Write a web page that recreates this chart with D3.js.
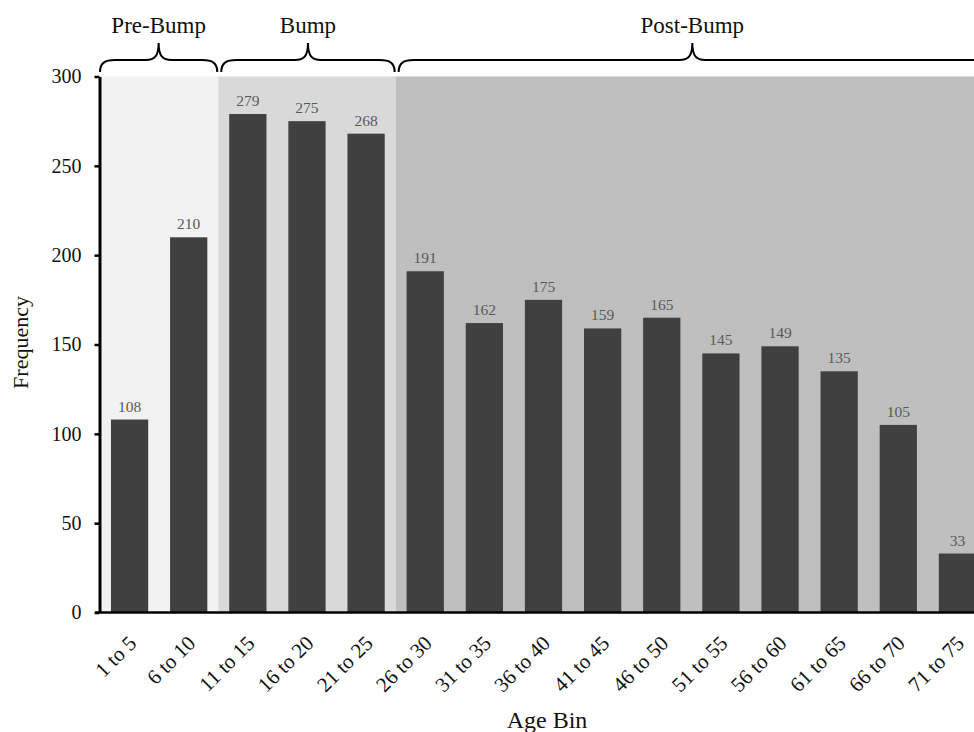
<!DOCTYPE html>
<html>
<head>
<meta charset="utf-8">
<script src="https://cdn.jsdelivr.net/npm/d3@7"></script>
<style>
  html, body { margin: 0; padding: 0; background: #fff; overflow: hidden; }
  svg { display: block; }
  text { font-family: "Liberation Serif", "Times New Roman", serif; }
</style>
</head>
<body>
<svg id="chart" width="974" height="732"></svg>
<script>
const categories = ["1 to 5","6 to 10","11 to 15","16 to 20","21 to 25","26 to 30","31 to 35","36 to 40","41 to 45","46 to 50","51 to 55","56 to 60","61 to 65","66 to 70","71 to 75"];
const frequencies = [108,210,279,275,268,191,162,175,159,165,145,149,135,105,33];
const groupNames = ["Pre-Bump","Bump","Post-Bump"];
const groupFirst = ["1 to 5","11 to 15","26 to 30"];
const groupLast = ["6 to 10","21 to 25","71 to 75"];
const groupFills = ["#f2f2f2","#d9d9d9","#bfbfbf"];
const yTicks = [0,50,100,150,200,250,300];

const svg = d3.select("#chart");
const W = 974, H = 732;

const x = d3.scaleBand().domain(categories).range([100, 987]).paddingInner(0.37).paddingOuter(0.185);
const y = d3.scaleLinear().domain([0, 300]).range([612.5, 76.5]);
const halfGap = x.step() * x.paddingInner() / 2;

// shaded group backgrounds
const groups = groupNames.map((n, i) => ({
  name: n,
  x0: x(groupFirst[i]) - halfGap,
  x1: x(groupLast[i]) + x.bandwidth() + halfGap,
  fill: groupFills[i]
}));
groups[0].x0 = x.range()[0];
groups[groups.length-1].x1 = x.range()[1];

svg.append("g").selectAll("rect").data(groups).join("rect")
  .attr("x", d => d.x0).attr("y", y(300))
  .attr("width", d => d.x1 - d.x0).attr("height", y(0) - y(300))
  .attr("fill", d => d.fill);

// braces
const braceEnd = 72, braceMid = 60, braceTip = 43;
function bracePath(x0, x1) {
  const t = (x0 + x1) / 2;
  return `M${x0},${braceEnd} C${x0},${braceMid+3} ${x0+5},${braceMid} ${x0+15},${braceMid} L${t-13},${braceMid} C${t-4},${braceMid} ${t},${braceMid-4} ${t},${braceTip} ` +
         `C${t},${braceMid-4} ${t+4},${braceMid} ${t+13},${braceMid} L${x1-15},${braceMid} C${x1-5},${braceMid} ${x1},${braceMid+3} ${x1},${braceEnd}`;
}
svg.append("g").selectAll("path").data(groups).join("path")
  .attr("d", (d, i) => bracePath(d.x0 + (i === 0 ? 0 : 3), d.x1 - 1))
  .attr("fill", "none").attr("stroke", "#000").attr("stroke-width", 2);

svg.append("g").selectAll("text").data(groups).join("text")
  .attr("x", (d, i) => ((d.x0 + (i === 0 ? 0 : 3)) + (d.x1 - 1)) / 2)
  .attr("y", 33)
  .attr("text-anchor", "middle")
  .attr("font-size", 23)
  .attr("fill", "#111")
  .text(d => d.name);

// bars
svg.append("g").selectAll("rect").data(categories).join("rect")
  .attr("x", d => x(d)).attr("width", x.bandwidth())
  .attr("y", (d, i) => y(frequencies[i]))
  .attr("height", (d, i) => y(0) - y(frequencies[i]))
  .attr("fill", "#404040");

// value labels
svg.append("g").selectAll("text").data(categories).join("text")
  .attr("x", d => x(d) + x.bandwidth() / 2)
  .attr("y", (d, i) => y(frequencies[i]) - 8)
  .attr("text-anchor", "middle")
  .attr("font-size", 15.5)
  .attr("fill", "#595959")
  .text((d, i) => frequencies[i]);

// y axis
const yAxis = svg.append("g").attr("transform", "translate(99.5,0)")
  .call(d3.axisLeft(y).tickValues(yTicks).tickSize(5).tickSizeOuter(0).tickPadding(13));
yAxis.select(".domain").attr("stroke", "#000").attr("stroke-width", 3);
yAxis.selectAll(".tick line").attr("stroke", "#000").attr("stroke-width", 2.5);
yAxis.selectAll(".tick text").attr("font-family", "Liberation Serif, serif").attr("font-size", 20).attr("fill", "#111");

// x axis
const xAxis = svg.append("g").attr("transform", `translate(0,${y(0)})`)
  .call(d3.axisBottom(x).tickSize(0).tickSizeOuter(0));
xAxis.select(".domain").attr("stroke", "#000").attr("stroke-width", 2.5)
  .attr("d", `M95,0H${W}`);
xAxis.selectAll(".tick text")
  .attr("font-family", "Liberation Serif, serif").attr("font-size", 21).attr("fill", "#111")
  .attr("text-anchor", "end")
  .attr("dy", null).attr("y", null)
  .attr("transform", "translate(8,32) rotate(-45)");

// axis titles
svg.append("text")
  .attr("transform", `translate(28,${(y(0)+y(300))/2 - 2}) rotate(-90)`)
  .attr("text-anchor", "middle")
  .attr("font-size", 22)
  .attr("fill", "#111")
  .text("Frequency");

svg.append("text")
  .attr("x", 547).attr("y", 728)
  .attr("text-anchor", "middle")
  .attr("font-size", 24)
  .attr("fill", "#111")
  .text("Age Bin");
</script>
</body>
</html>
